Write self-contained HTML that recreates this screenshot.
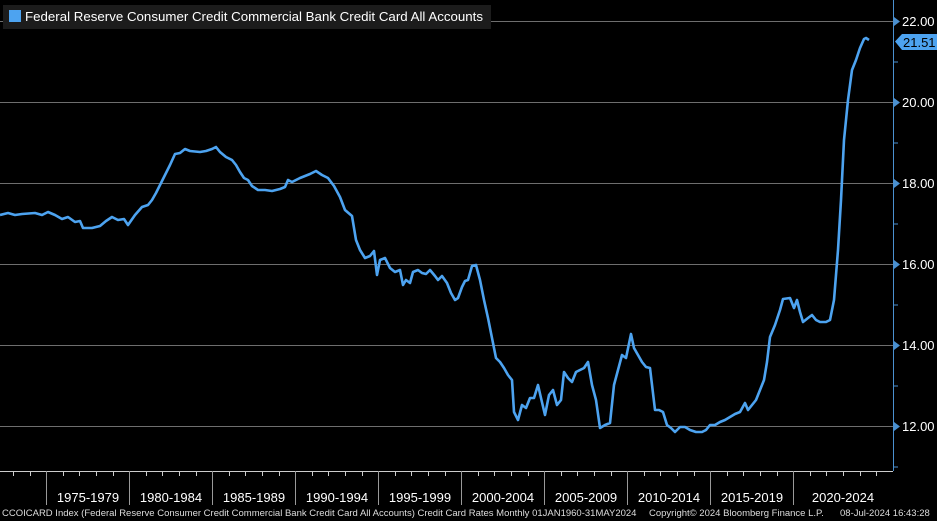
<!DOCTYPE html>
<html><head><style>
body{margin:0;background:#000;width:937px;height:521px;overflow:hidden}
svg{display:block}
text{font-family:"Liberation Sans","DejaVu Sans",sans-serif}
</style></head><body>
<svg width="937" height="521" viewBox="0 0 937 521">
<rect width="937" height="521" fill="#000"/>
<g stroke="#6e6e6e" stroke-width="1">
<line x1="0" y1="21.5" x2="893" y2="21.5"/>
<line x1="0" y1="102.5" x2="893" y2="102.5"/>
<line x1="0" y1="183.5" x2="893" y2="183.5"/>
<line x1="0" y1="264.5" x2="893" y2="264.5"/>
<line x1="0" y1="345.5" x2="893" y2="345.5"/>
<line x1="0" y1="426.5" x2="893" y2="426.5"/>
</g>
<line x1="893.5" y1="0" x2="893.5" y2="471" stroke="#4a90d0" stroke-width="1"/>
<g fill="#4a90d0">
<polygon points="894,17 900,21.5 894,26"/><polygon points="894,98 900,102.5 894,107"/>
<polygon points="894,179 900,183.5 894,188"/><polygon points="894,260 900,264.5 894,269"/>
<polygon points="894,341 900,345.5 894,350"/><polygon points="894,422 900,426.5 894,431"/>
</g>
<g stroke="#4a90d0"><line x1="893" y1="62" x2="898" y2="62"/><line x1="893" y1="143" x2="898" y2="143"/><line x1="893" y1="224" x2="898" y2="224"/><line x1="893" y1="305" x2="898" y2="305"/><line x1="893" y1="386" x2="898" y2="386"/><line x1="893" y1="467" x2="898" y2="467"/></g>
<g fill="#fff" font-size="13">
<text x="902" y="26">22.00</text><text x="902" y="107">20.00</text><text x="902" y="188">18.00</text>
<text x="902" y="269">16.00</text><text x="902" y="350">14.00</text><text x="902" y="431">12.00</text>
</g>
<polygon points="895,41.5 902,34 937,34 937,50 902,50" fill="#4da3f0"/>
<text x="903" y="47" font-size="13" fill="#000">21.51</text>
<line x1="0" y1="471.5" x2="893" y2="471.5" stroke="#ccc"/>
<g stroke="#999">
<line x1="46.5" y1="471" x2="46.5" y2="505"/><line x1="129.5" y1="471" x2="129.5" y2="505"/>
<line x1="212.5" y1="471" x2="212.5" y2="505"/><line x1="295.5" y1="471" x2="295.5" y2="505"/>
<line x1="378.5" y1="471" x2="378.5" y2="505"/><line x1="461.5" y1="471" x2="461.5" y2="505"/>
<line x1="544.5" y1="471" x2="544.5" y2="505"/><line x1="627.5" y1="471" x2="627.5" y2="505"/>
<line x1="710.5" y1="471" x2="710.5" y2="505"/><line x1="793.5" y1="471" x2="793.5" y2="505"/>
</g>
<g fill="#fff" font-size="13" text-anchor="middle">
<text x="88" y="502">1975-1979</text><text x="171" y="502">1980-1984</text><text x="254" y="502">1985-1989</text>
<text x="337" y="502">1990-1994</text><text x="420" y="502">1995-1999</text><text x="503" y="502">2000-2004</text>
<text x="586" y="502">2005-2009</text><text x="669" y="502">2010-2014</text><text x="752" y="502">2015-2019</text>
<text x="843" y="502">2020-2024</text>
</g>
<g stroke="#ccc">
<path d="M13.5 471v5M30.5 471v5M63.5 471v5M79.5 471v5M96.5 471v5M113.5 471v5M146.5 471v5M162.5 471v5M179.5 471v5M196.5 471v5M229.5 471v5M245.5 471v5M262.5 471v5M279.5 471v5M312.5 471v5M328.5 471v5M345.5 471v5M362.5 471v5M395.5 471v5M411.5 471v5M428.5 471v5M445.5 471v5M478.5 471v5M494.5 471v5M511.5 471v5M528.5 471v5M561.5 471v5M577.5 471v5M594.5 471v5M611.5 471v5M644.5 471v5M660.5 471v5M677.5 471v5M694.5 471v5M727.5 471v5M743.5 471v5M760.5 471v5M777.5 471v5M810.5 471v5M826.5 471v5M843.5 471v5M860.5 471v5M876.5 471v5"/>
</g>
<polyline fill="none" stroke="#4da3f0" stroke-width="2.6" stroke-linejoin="round" points="0,215 8,213 15,215 22,214 35,213 42,215 48,212 55,215 62,219 68,217 75,222 80,221 83,228 92,228 100,226 106,221 112,217 118,220 124,219 128,225 135,215 142,207 148,205 152,200 156,193 160,185 165,175 170,165 175,154 180,153 185,149 190,151 200,152 206,151 212,149 216,147 220,152 226,157 232,160 236,165 240,172 244,178 248,180 252,186 258,190 265,190 272,191 280,189 285,187 288,180 292,182 300,178 310,174 316,171 322,175 328,178 334,186 340,197 345,210 352,216 356,240 360,250 365,258 370,256 374,251 377,275 380,260 385,258 390,268 395,272 400,270 403,285 406,280 410,283 413,272 418,270 422,273 426,274 430,270 435,276 438,280 442,276 447,283 451,293 455,300 458,298 462,287 465,281 468,280 472,266 476,265 480,280 484,300 488,318 492,338 496,358 500,362 504,368 508,375 512,380 514,412 518,420 522,405 526,408 530,398 534,398 538,385 541,398 545,415 549,395 553,390 557,405 561,400 564,372 568,378 572,382 576,372 580,370 584,368 588,362 592,385 596,400 600,428 605,425 610,423 614,385 618,370 622,355 626,358 631,334 634,348 638,355 642,362 646,367 650,368 655,410 659,410 663,412 667,425 671,428 675,432 680,427 685,427 690,430 696,432 702,432 706,430 710,425 715,425 720,422 725,420 730,417 735,414 740,412 745,403 748,410 752,405 756,400 760,390 764,380 767,362 770,337 775,325 780,310 783,299 790,298 794,308 797,300 800,312 803,322 808,318 812,315 816,320 820,322 826,322 830,320 834,300 838,250 841,200 844,140 848,100 852,70 856,60 860,48 864,39 866,38 869,40"/>
<rect x="3" y="5" width="488" height="24" fill="#1c1c1c"/>
<rect x="9" y="10" width="12" height="12" fill="#4da3f0"/>
<text x="25" y="21" font-size="13" fill="#fff" textLength="458" lengthAdjust="spacingAndGlyphs">Federal Reserve Consumer Credit Commercial Bank Credit Card All Accounts</text>
<g fill="#ddd" font-size="9.5">
<text x="2" y="516">CCOICARD Index (Federal Reserve Consumer Credit Commercial Bank Credit Card All Accounts) Credit Card Rates  Monthly 01JAN1960-31MAY2024</text>
<text x="649" y="516">Copyright© 2024 Bloomberg Finance L.P.</text>
<text x="840" y="516">08-Jul-2024 16:43:28</text>
</g>
</svg>
</body></html>
